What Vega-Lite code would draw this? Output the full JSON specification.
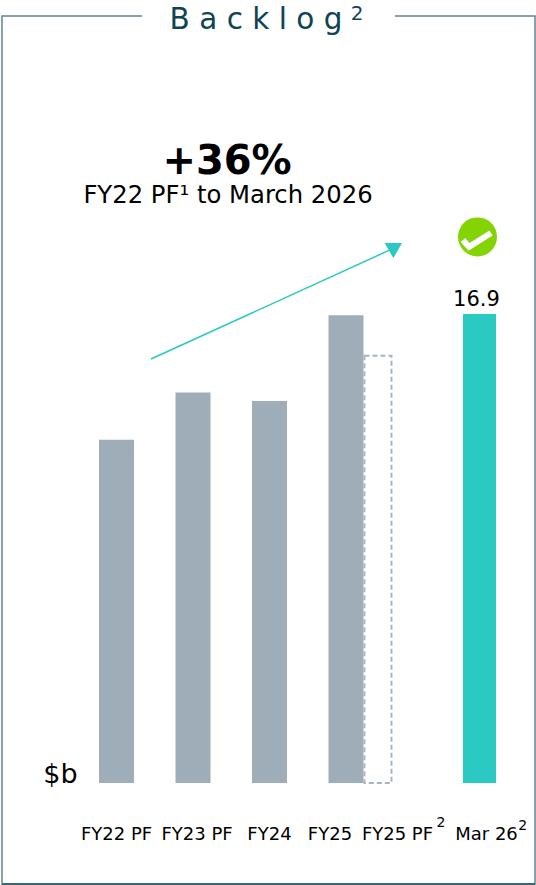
{"$schema":"https://vega.github.io/schema/vega-lite/v6.json","width":536,"height":885,"autosize":{"type":"fit","contains":"padding"},"padding":0,"background":"white","config":{"view":{"stroke":null},"axis":{"disable":true},"text":{"font":"DejaVu Sans","baseline":"alphabetic","align":"center","fill":"black"}},
"data":{"values":[{"period":"FY22 PF","label":"FY22 PF","slot":0,"value":12.37},{"period":"FY23 PF","label":"FY23 PF","slot":1,"value":14.07},{"period":"FY24","label":"FY24","slot":2,"value":13.77},{"period":"FY25","label":"FY25","slot":3,"value":16.86},{"period":"FY25 PF","label":"FY25 PF","slot":3.418,"value":15.4},{"period":"Mar 26","label":"Mar 26","slot":4.745,"value":16.9}]},
"encoding":{"x":{"field":"slot","type":"quantitative","scale":{"domain":[-1.5229,5.4837],"nice":false,"zero":false,"padding":0},"axis":null},"y":{"field":"value","type":"quantitative","scale":{"domain":[-3.6757,28.2162],"nice":false,"zero":false},"axis":null}},
"layer":[
{"transform":[{"filter":"datum.period=='Mar 26'"}],"mark":{"type":"rect","fill":null,"stroke":"#5f858f","strokeWidth":1.5},"encoding":{"x":{"datum":-1.497},"x2":{"datum":5.471},"y":{"datum":27.64},"y2":{"datum":-3.64}}},
{"transform":[{"filter":"datum.period=='Mar 26'"}],"mark":{"type":"rule","stroke":"#1f5562","strokeWidth":1.5},"encoding":{"x":{"datum":-1.497},"x2":{"datum":5.471},"y":{"datum":-3.64}}},
{"transform":[{"filter":"datum.period=='Mar 26'"}],"mark":{"type":"rect","fill":"white"},"encoding":{"x":{"datum":0.333},"x2":{"datum":3.64},"y":{"datum":27.9},"y2":{"datum":27.4}}},
{"transform":[{"filter":"datum.period=='Mar 26'"}],"mark":{"type":"text","fontSize":29.5,"fill":"#0f4553"},"encoding":{"x":{"datum":1.824},"y":{"datum":27.18},"text":{"value":"B a c k l o g"}}},
{"transform":[{"filter":"datum.period=='Mar 26'"}],"mark":{"type":"text","fontSize":20,"fill":"#0f4553"},"encoding":{"x":{"datum":3.144},"y":{"datum":27.5},"text":{"value":"2"}}},
{"transform":[{"filter":"datum.period=='Mar 26'"}],"mark":{"type":"text","fontSize":40,"fontWeight":"bold"},"encoding":{"x":{"datum":1.445},"y":{"datum":21.95},"text":{"value":"+36%"}}},
{"transform":[{"filter":"datum.period=='Mar 26'"}],"mark":{"type":"text","fontSize":24.3},"encoding":{"x":{"datum":1.458},"y":{"datum":20.9},"text":{"value":"FY22 PF¹ to March 2026"}}},
{"transform":[{"filter":"datum.period=='Mar 26'"}],"mark":{"type":"rule","stroke":"#2ac9c1","strokeWidth":1.5},"encoding":{"x":{"datum":0.451},"x2":{"datum":3.575},"y":{"datum":15.28},"y2":{"datum":19.21}}},
{"transform":[{"filter":"datum.period=='Mar 26'"}],"mark":{"type":"point","shape":"triangle-up","filled":true,"fill":"#2ac9c1","opacity":1,"size":300,"angle":60},"encoding":{"x":{"datum":3.647},"y":{"datum":19.32}}},
{"transform":[{"filter":"datum.period=='Mar 26'"}],"mark":{"type":"point","shape":"circle","filled":true,"fill":"#84d404","opacity":1,"size":1521},"encoding":{"x":{"datum":4.719},"y":{"datum":19.68}}},
{"transform":[{"filter":"datum.period=='Mar 26'"}],"mark":{"type":"rule","stroke":"white","strokeWidth":6},"encoding":{"x":{"datum":4.529},"x2":{"datum":4.608},"y":{"datum":19.57},"y2":{"datum":19.32}}},
{"transform":[{"filter":"datum.period=='Mar 26'"}],"mark":{"type":"rule","stroke":"white","strokeWidth":6},"encoding":{"x":{"datum":4.58},"x2":{"datum":4.895},"y":{"datum":19.27},"y2":{"datum":19.82}}},
{"transform":[{"filter":"datum.period!='FY25 PF' && datum.period!='Mar 26'"}],"mark":{"type":"bar","orient":"vertical","width":35,"fill":"#9fadb9"},"encoding":{"y":{"field":"value","type":"quantitative","stack":null}}},
{"transform":[{"filter":"datum.period=='FY25 PF'"}],"mark":{"type":"bar","orient":"vertical","width":27,"fill":null,"stroke":"#a8b5c0","strokeWidth":2,"strokeDash":[5,3]},"encoding":{"y":{"field":"value","type":"quantitative","stack":null}}},
{"transform":[{"filter":"datum.period=='Mar 26'"}],"mark":{"type":"bar","orient":"vertical","width":33,"fill":"#2ac9c1"},"encoding":{"y":{"field":"value","type":"quantitative","stack":null}}},
{"transform":[{"filter":"datum.period=='Mar 26'"}],"mark":{"type":"text","fontSize":21,"dy":-8,"dx":-3},"encoding":{"text":{"field":"value","type":"quantitative","format":".1f"}}},
{"transform":[{"filter":"datum.period=='Mar 26'"}],"mark":{"type":"text","fontSize":27},"encoding":{"x":{"datum":-0.732},"y":{"datum":0},"text":{"value":"$b"}}},
{"transform":[{"filter":"datum.period=='FY22 PF'||datum.period=='FY24'"}],"mark":{"type":"text","fontSize":18},"encoding":{"y":{"datum":-2.04},"text":{"field":"label"}}},
{"transform":[{"filter":"datum.period=='FY23 PF'"}],"mark":{"type":"text","fontSize":18,"dx":4},"encoding":{"y":{"datum":-2.04},"text":{"field":"label"}}},
{"transform":[{"filter":"datum.period=='FY25'"}],"mark":{"type":"text","fontSize":18,"dx":-16},"encoding":{"y":{"datum":-2.04},"text":{"field":"label"}}},
{"transform":[{"filter":"datum.period=='FY25 PF'"}],"mark":{"type":"text","fontSize":18,"dx":19.5},"encoding":{"y":{"datum":-2.04},"text":{"field":"label"}}},
{"transform":[{"filter":"datum.period=='Mar 26'"}],"mark":{"type":"text","fontSize":18,"dx":7},"encoding":{"y":{"datum":-2.04},"text":{"field":"label"}}},
{"transform":[{"filter":"datum.period=='Mar 26'"}],"mark":{"type":"text","fontSize":14},"encoding":{"x":{"datum":4.24},"y":{"datum":-1.585},"text":{"value":"2"}}},
{"transform":[{"filter":"datum.period=='Mar 26'"}],"mark":{"type":"text","fontSize":14},"encoding":{"x":{"datum":5.31},"y":{"datum":-1.69},"text":{"value":"2"}}}
]}
